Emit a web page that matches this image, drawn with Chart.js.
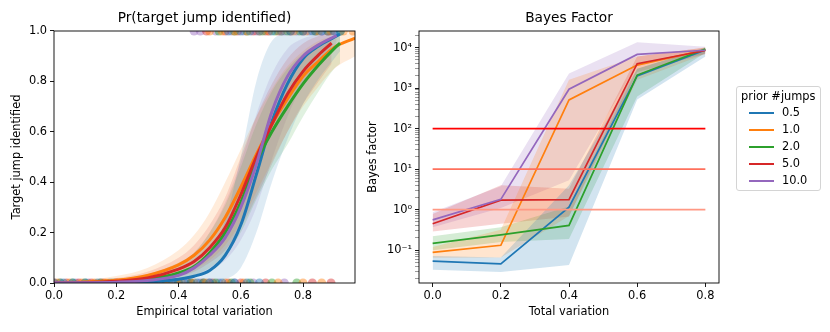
<!DOCTYPE html>
<html>
<head>
<meta charset="utf-8">
<script src="https://cdn.jsdelivr.net/npm/chart.js@4.4.0/dist/chart.umd.min.js"></script>
<style>
  body { margin: 0; background: #fff; font-family: "DejaVu Sans", sans-serif; }
  #wrap { position: relative; width: 830px; height: 332px; overflow: hidden; }
  canvas { position: absolute; top: 0; }
  #left { left: 0; }
  #right { left: 360px; }
  #legend { position: absolute; left: 736px; top: 86px; width: 83px; height: 103px;
            border: 1px solid #d4d4d4; border-radius: 3px; font-size: 11.4px; color: #000; }
  #legend .ttl { position: absolute; left: 4px; top: 2px; white-space: nowrap; }
  #legend .row { position: absolute; left: 0; height: 14px; }
  #legend .smp { position: absolute; left: 12px; top: 6px; width: 25px; height: 2px; }
  #legend .lab { position: absolute; left: 45px; top: -1px; white-space: nowrap; }
</style>
</head>
<body>
<div id="wrap">
  <canvas id="left" width="360" height="332"></canvas>
  <canvas id="right" width="470" height="332"></canvas>
  <div id="legend"></div>
</div>
<script>
// series names (legend) and tab10 colours
const priorJumps = ['0.5', '1.0', '2.0', '5.0', '10.0'];
const tab = ['31,119,180', '255,127,14', '44,160,44', '214,39,40', '148,103,189'];

// ---- left panel: logistic fits ----
const fitX_05 = [0, 0.1, 0.2, 0.3, 0.4, 0.45, 0.5, 0.55, 0.6, 0.65, 0.7, 0.75, 0.8, 0.85, 0.9, 0.919];
const fitY_05 = [0.0002, 0.0005, 0.001, 0.004, 0.015, 0.027, 0.05, 0.11, 0.23, 0.43, 0.64, 0.79, 0.89, 0.94, 0.975, 0.988];
const fitHi_05 = [0.001, 0.002, 0.005, 0.012, 0.04, 0.065, 0.12, 0.25, 0.5, 0.8, 0.96, 0.99, 1, 1, 1, 1];
const fitLo_05 = [0, 0, 0, 0, 0, 0, 0.003, 0.015, 0.06, 0.2, 0.4, 0.57, 0.71, 0.81, 0.89, 0.92];

const fitX_1 = [0, 0.1, 0.2, 0.3, 0.4, 0.45, 0.5, 0.55, 0.6, 0.65, 0.7, 0.75, 0.8, 0.85, 0.9, 0.967];
const fitY_1 = [0.001, 0.004, 0.011, 0.03, 0.072, 0.11, 0.17, 0.26, 0.38, 0.51, 0.63, 0.73, 0.82, 0.88, 0.935, 0.972];
const fitHi_1 = [0.004, 0.012, 0.028, 0.06, 0.13, 0.19, 0.28, 0.4, 0.53, 0.66, 0.77, 0.86, 0.92, 0.96, 0.98, 0.995];
const fitLo_1 = [0, 0.001, 0.003, 0.012, 0.035, 0.055, 0.09, 0.15, 0.24, 0.36, 0.48, 0.6, 0.7, 0.78, 0.85, 0.9];

const fitX_2 = [0, 0.1, 0.2, 0.3, 0.4, 0.45, 0.5, 0.55, 0.6, 0.65, 0.7, 0.75, 0.8, 0.85, 0.9, 0.919];
const fitY_2 = [0.001, 0.002, 0.005, 0.014, 0.04, 0.065, 0.12, 0.2, 0.32, 0.48, 0.6, 0.7, 0.79, 0.865, 0.93, 0.952];
const fitHi_2 = [0.003, 0.007, 0.016, 0.035, 0.08, 0.12, 0.2, 0.31, 0.46, 0.63, 0.76, 0.85, 0.91, 0.95, 0.975, 0.98];
const fitLo_2 = [0, 0.0005, 0.001, 0.004, 0.015, 0.03, 0.06, 0.11, 0.2, 0.33, 0.45, 0.55, 0.66, 0.76, 0.85, 0.87];

const fitX_5 = [0, 0.1, 0.2, 0.3, 0.4, 0.45, 0.5, 0.55, 0.6, 0.65, 0.7, 0.75, 0.8, 0.85, 0.892];
const fitY_5 = [0.001, 0.002, 0.007, 0.02, 0.055, 0.085, 0.14, 0.22, 0.35, 0.5, 0.63, 0.75, 0.84, 0.905, 0.952];
const fitHi_5 = [0.003, 0.008, 0.02, 0.045, 0.1, 0.15, 0.23, 0.34, 0.5, 0.66, 0.79, 0.89, 0.95, 0.98, 0.99];
const fitLo_5 = [0, 0.0005, 0.002, 0.007, 0.025, 0.045, 0.08, 0.13, 0.22, 0.34, 0.47, 0.6, 0.71, 0.8, 0.87];

const fitX_10 = [0, 0.1, 0.2, 0.3, 0.4, 0.45, 0.5, 0.55, 0.6, 0.65, 0.7, 0.75, 0.8, 0.85, 0.908];
const fitY_10 = [0.0005, 0.001, 0.003, 0.01, 0.03, 0.06, 0.11, 0.18, 0.3, 0.47, 0.68, 0.82, 0.9, 0.945, 0.982];
const fitHi_10 = [0.002, 0.004, 0.01, 0.025, 0.07, 0.12, 0.2, 0.32, 0.48, 0.67, 0.83, 0.93, 0.97, 0.985, 0.997];
const fitLo_10 = [0, 0, 0.0005, 0.002, 0.01, 0.025, 0.05, 0.09, 0.17, 0.3, 0.49, 0.66, 0.79, 0.87, 0.94];

// observed outcomes: x of runs where the jump was missed (y=0) / found (y=1)
const misses_05 = [0.0, 0.03, 0.06, 0.1, 0.14, 0.18, 0.22, 0.26, 0.3, 0.34, 0.38, 0.42, 0.46, 0.5, 0.54, 0.58, 0.62, 0.66];
const hits_05 = [0.56, 0.6, 0.63, 0.66, 0.7, 0.73, 0.76, 0.8, 0.83, 0.86, 0.9, 0.92];
const misses_1 = [0.01, 0.05, 0.09, 0.13, 0.17, 0.21, 0.25, 0.29, 0.33, 0.37, 0.41, 0.45, 0.49, 0.55, 0.61, 0.72, 0.8, 0.86];
const hits_1 = [0.5, 0.54, 0.58, 0.62, 0.66, 0.69, 0.73, 0.77, 0.81, 0.85, 0.89, 0.93, 0.96];
const misses_2 = [0.02, 0.06, 0.1, 0.15, 0.19, 0.24, 0.28, 0.32, 0.36, 0.4, 0.44, 0.48, 0.52, 0.57, 0.63, 0.7, 0.78];
const hits_2 = [0.53, 0.58, 0.62, 0.67, 0.71, 0.75, 0.79, 0.84, 0.88, 0.92];
const misses_5 = [0.0, 0.04, 0.08, 0.12, 0.16, 0.2, 0.24, 0.28, 0.32, 0.36, 0.4, 0.44, 0.48, 0.51, 0.56, 0.6, 0.68, 0.83, 0.89];
const hits_5 = [0.49, 0.55, 0.59, 0.64, 0.68, 0.72, 0.76, 0.8, 0.84, 0.88];
const misses_10 = [0.02, 0.07, 0.11, 0.15, 0.2, 0.25, 0.3, 0.35, 0.39, 0.43, 0.47, 0.5, 0.53, 0.58, 0.64, 0.74];
const hits_10 = [0.45, 0.47, 0.52, 0.57, 0.61, 0.65, 0.69, 0.74, 0.78, 0.82, 0.86, 0.9];

const leftXTicks = [0, 0.2, 0.4, 0.6, 0.8];
const leftYTicks = [0, 0.2, 0.4, 0.6, 0.8, 1.0];

// ---- right panel: Bayes factor per total variation ----
const totalVariation = [0.0, 0.2, 0.4, 0.6, 0.8];
const bf_05 = [0.054, 0.046, 1.15, 2000, 8700];
const bfLo_05 = [0.033, 0.029, 0.043, 525, 6000];
const bfHi_05 = [0.072, 0.066, 4, 3000, 9800];
const bf_1 = [0.088, 0.132, 510, 3700, 8800];
const bfLo_1 = [0.065, 0.066, 0.7, 1600, 7000];
const bfHi_1 = [0.12, 0.32, 1600, 6000, 10000];
const bf_2 = [0.147, 0.24, 0.41, 2100, 9200];
const bfLo_2 = [0.1, 0.16, 0.19, 620, 7500];
const bfHi_2 = [0.22, 0.37, 1.2, 3000, 10000];
const bf_5 = [0.45, 1.72, 1.78, 4000, 8500];
const bfLo_5 = [0.29, 0.45, 0.68, 2500, 7000];
const bfHi_5 = [0.78, 4.0, 3.3, 6000, 10000];
const bf_10 = [0.56, 1.8, 940, 6800, 8600];
const bfLo_10 = [0.37, 1.1, 5.3, 4000, 7000];
const bfHi_10 = [0.87, 3.8, 2300, 13500, 10500];

const thresholds = [100, 10, 1];
const thresholdColors = ['#ff0000', 'rgb(255,112,92)', 'rgb(255,152,132)'];
const rightXTicks = [0, 0.2, 0.4, 0.6, 0.8];

Chart.defaults.font.family = '"DejaVu Sans", sans-serif';
Chart.defaults.font.size = 11.4;
Chart.defaults.color = '#000';
Chart.defaults.animation = false;

const xy = (xs, ys) => xs.map((x, i) => ({ x: x, y: ys[i] }));

// axes frame on all four sides, like matplotlib spines
const framePlugin = {
  id: 'frame',
  afterDraw(chart) {
    const { ctx, chartArea: a } = chart;
    ctx.save();
    ctx.strokeStyle = '#000';
    ctx.lineWidth = 0.9;
    ctx.strokeRect(a.left, a.top, a.right - a.left, a.bottom - a.top);
    ctx.restore();
  }
};

const tickGrid = { display: true, drawOnChartArea: false, drawTicks: true, tickLength: 4, color: '#000', tickWidth: 0.9 };

// left panel
const leftSeries = [
  { x: fitX_05, y: fitY_05, hi: fitHi_05, lo: fitLo_05, hits: hits_05, misses: misses_05 },
  { x: fitX_1, y: fitY_1, hi: fitHi_1, lo: fitLo_1, hits: hits_1, misses: misses_1 },
  { x: fitX_2, y: fitY_2, hi: fitHi_2, lo: fitLo_2, hits: hits_2, misses: misses_2 },
  { x: fitX_5, y: fitY_5, hi: fitHi_5, lo: fitLo_5, hits: hits_5, misses: misses_5 },
  { x: fitX_10, y: fitY_10, hi: fitHi_10, lo: fitLo_10, hits: hits_10, misses: misses_10 }
];

const leftDatasets = [];
leftSeries.forEach((s, i) => {
  const c = tab[i];
  leftDatasets.push({
    data: s.misses.map(x => ({ x: x, y: 0 })).concat(s.hits.map(x => ({ x: x, y: 1 }))),
    showLine: false, pointRadius: 4.5, pointBorderWidth: 0,
    pointBackgroundColor: `rgba(${c},0.45)`, order: 20, clip: 0
  });
  leftDatasets.push({
    data: xy(s.x, s.hi), borderWidth: 0, borderColor: 'rgba(0,0,0,0)', pointRadius: 0,
    fill: '+1', backgroundColor: `rgba(${c},0.15)`, cubicInterpolationMode: 'monotone', order: 10
  });
  leftDatasets.push({
    data: xy(s.x, s.lo), borderWidth: 0, borderColor: 'rgba(0,0,0,0)', pointRadius: 0,
    fill: false, cubicInterpolationMode: 'monotone', order: 10
  });
  leftDatasets.push({
    data: xy(s.x, s.y), borderColor: `rgb(${c})`, borderWidth: 3, pointRadius: 0,
    fill: false, cubicInterpolationMode: 'monotone', order: 5 - i
  });
});

new Chart(document.getElementById('left'), {
  type: 'line',
  data: { datasets: leftDatasets },
  plugins: [framePlugin],
  options: {
    responsive: false,
    layout: { padding: { left: 0, right: 5, top: 0, bottom: 0 } },
    plugins: {
      legend: { display: false },
      tooltip: { enabled: false },
      title: { display: true, fullSize: false, text: 'Pr(target jump identified)',
               font: { size: 13.7, weight: 'normal' }, padding: { top: 10.1, bottom: 4.46 } }
    },
    scales: {
      x: {
        type: 'linear', min: 0, max: 0.967,
        afterFit: s => { s.height = 49; },
        afterBuildTicks: s => { s.ticks = leftXTicks.map(v => ({ value: v })); },
        ticks: { callback: v => Number(v).toFixed(1), padding: 2, maxRotation: 0 },
        grid: tickGrid, border: { display: false },
        title: { display: true, text: 'Empirical total variation', padding: { top: 0, bottom: 12.9 } }
      },
      y: {
        type: 'linear', min: 0, max: 1,
        afterFit: s => { s.width = 54; },
        afterBuildTicks: s => { s.ticks = leftYTicks.map(v => ({ value: v })); },
        ticks: { callback: v => Number(v).toFixed(1), padding: 3 },
        grid: tickGrid, border: { display: false },
        title: { display: true, text: 'Target jump identified', padding: { top: 10.2, bottom: 0 } }
      }
    }
  }
});

// right panel
const rightSeries = [
  { y: bf_05, lo: bfLo_05, hi: bfHi_05 },
  { y: bf_1, lo: bfLo_1, hi: bfHi_1 },
  { y: bf_2, lo: bfLo_2, hi: bfHi_2 },
  { y: bf_5, lo: bfLo_5, hi: bfHi_5 },
  { y: bf_10, lo: bfLo_10, hi: bfHi_10 }
];

const rightDatasets = [];
thresholds.forEach((t, i) => {
  rightDatasets.push({
    data: [{ x: totalVariation[0], y: t }, { x: totalVariation[totalVariation.length - 1], y: t }],
    borderColor: thresholdColors[i], borderWidth: 1.8, pointRadius: 0, fill: false, order: -1
  });
});
rightSeries.forEach((s, i) => {
  const c = tab[i];
  rightDatasets.push({
    data: xy(totalVariation, s.hi), borderWidth: 0, borderColor: 'rgba(0,0,0,0)', pointRadius: 0,
    fill: '+1', backgroundColor: `rgba(${c},0.2)`, order: 10
  });
  rightDatasets.push({
    data: xy(totalVariation, s.lo), borderWidth: 0, borderColor: 'rgba(0,0,0,0)', pointRadius: 0,
    fill: false, order: 10
  });
  rightDatasets.push({
    data: xy(totalVariation, s.y), borderColor: `rgb(${c})`, borderWidth: 1.7, pointRadius: 0,
    fill: false, order: 5 - i
  });
});

const sup = { '-': '\u207b', '0': '\u2070', '1': '\u00b9', '2': '\u00b2', '3': '\u00b3', '4': '\u2074' };
const logTicks = [];
for (let e = -2; e <= 4; e++) {
  for (let m = 1; m <= 9; m++) {
    const v = m * Math.pow(10, e);
    if (v >= 0.0155 && v <= 25700) logTicks.push({ value: v, major: m === 1 });
  }
}

new Chart(document.getElementById('right'), {
  type: 'line',
  data: { datasets: rightDatasets },
  plugins: [framePlugin],
  options: {
    responsive: false,
    layout: { padding: { left: 0, right: 111, top: 0, bottom: 0 } },
    plugins: {
      legend: { display: false },
      tooltip: { enabled: false },
      title: { display: true, fullSize: false, text: 'Bayes Factor',
               font: { size: 13.7, weight: 'normal' }, padding: { top: 10.1, bottom: 4.46 } }
    },
    scales: {
      x: {
        type: 'linear', min: -0.04, max: 0.84,
        afterFit: s => { s.height = 49; },
        afterBuildTicks: s => { s.ticks = rightXTicks.map(v => ({ value: v })); },
        ticks: { callback: v => Number(v).toFixed(1), padding: 2, maxRotation: 0 },
        grid: tickGrid, border: { display: false },
        title: { display: true, text: 'Total variation', padding: { top: 0, bottom: 12.9 } }
      },
      y: {
        type: 'logarithmic', min: 0.0155, max: 25700,
        afterFit: s => { s.width = 59; },
        afterBuildTicks: s => { s.ticks = logTicks.map(t => ({ value: t.value, major: t.major })); },
        ticks: {
          autoSkip: false, padding: 3,
          callback: (v, i) => {
            if (!logTicks[i] || !logTicks[i].major) return '';
            const e = String(Math.round(Math.log10(v)));
            return '10' + e.split('').map(ch => sup[ch]).join('');
          }
        },
        grid: Object.assign({}, tickGrid, {
          tickColor: ctx => (ctx.tick && ctx.tick.major) ? '#000' : '#555',
          tickWidth: ctx => (ctx.tick && ctx.tick.major) ? 0.9 : 0.6
        }),
        border: { display: false },
        title: { display: true, text: 'Bayes factor', padding: { top: 6.5, bottom: 0 } }
      }
    }
  }
});

// legend box (HTML) built from series names and colours
const legend = document.getElementById('legend');
const ttl = document.createElement('div');
ttl.className = 'ttl';
ttl.textContent = 'prior #jumps';
legend.appendChild(ttl);
priorJumps.forEach((name, i) => {
  const row = document.createElement('div');
  row.className = 'row';
  row.style.top = (19 + i * 16.9) + 'px';
  const smp = document.createElement('div');
  smp.className = 'smp';
  smp.style.background = `rgb(${tab[i]})`;
  const lab = document.createElement('div');
  lab.className = 'lab';
  lab.textContent = name;
  row.appendChild(smp);
  row.appendChild(lab);
  legend.appendChild(row);
});
</script>
</body>
</html>
